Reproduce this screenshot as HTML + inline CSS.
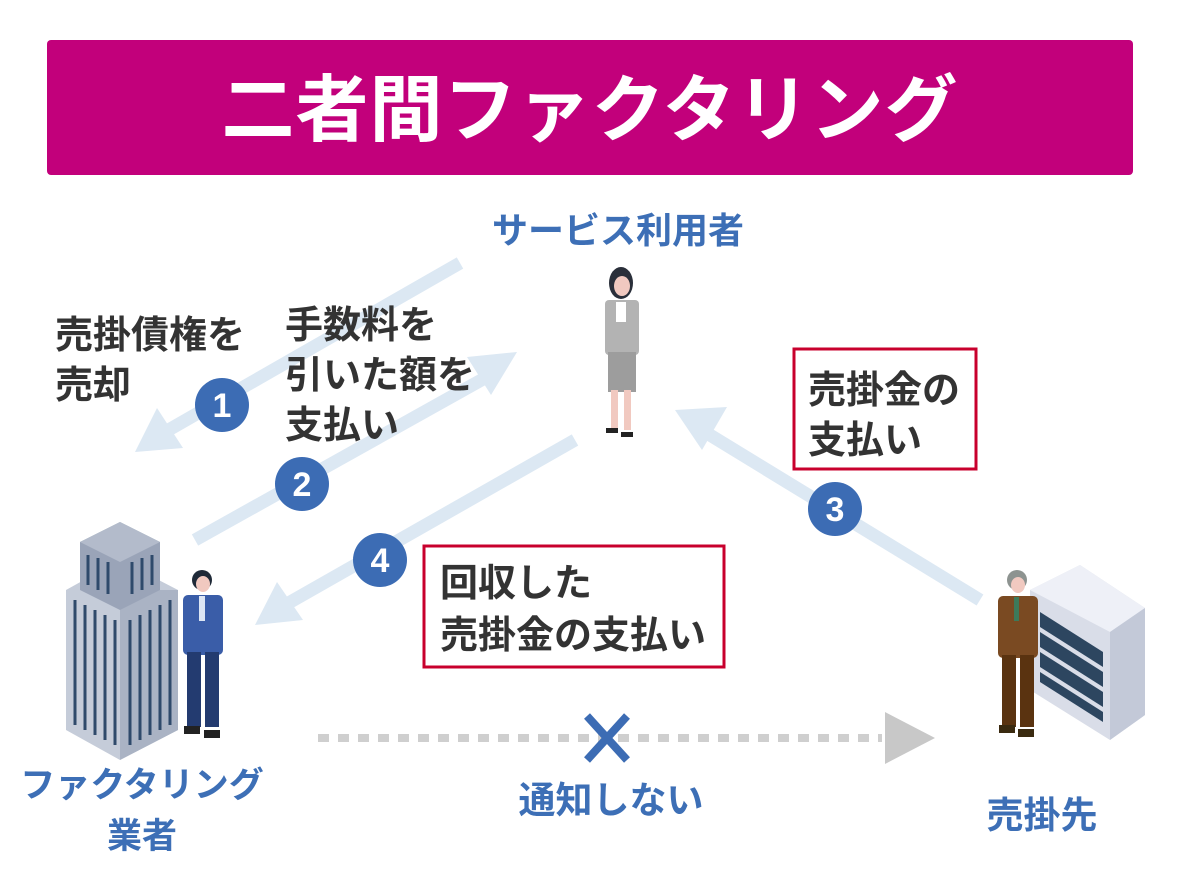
<!DOCTYPE html>
<html><head><meta charset="utf-8"><style>
html,body{margin:0;padding:0;background:#fff;}
svg{display:block;font-family:"Liberation Sans","Noto Sans CJK JP",sans-serif;font-weight:bold;}
</style></head><body>
<svg width="1184" height="886" viewBox="0 0 1184 886">
<rect x="47" y="40" width="1086" height="135" rx="4" fill="#c2007b"/>
<text x="590" y="135" font-size="73" fill="#fff" text-anchor="middle" letter-spacing="1">二者間ファクタリング</text>

<text x="618" y="243" font-size="36" fill="#3d6fb6" text-anchor="middle">サービス利用者</text>

<g stroke="#dce8f3" stroke-width="13" fill="none">
<line x1="460" y1="263" x2="165" y2="432"/>
<line x1="195" y1="540" x2="485" y2="378"/>
<line x1="575" y1="440" x2="285" y2="605"/>
<line x1="980" y1="600" x2="705" y2="432"/>
</g>
<g fill="#dce8f3">
<polygon points="135,452 157,408 183,448"/>
<polygon points="517,352 491,395 467,357"/>
<polygon points="255,625 277,582 303,620"/>
<polygon points="675,410 727,407 702,450"/>
</g>

<g fill="#3c6cb4">
<circle cx="222" cy="405" r="27"/><circle cx="302" cy="484" r="27"/>
<circle cx="380" cy="560" r="27"/><circle cx="835" cy="509" r="27"/>
</g>
<g fill="#fff" font-size="34" text-anchor="middle">
<text x="222" y="417">1</text><text x="302" y="496">2</text>
<text x="380" y="572">4</text><text x="835" y="521">3</text>
</g>

<g fill="#333" font-size="38">
<text x="55" y="348">売掛債権を</text><text x="55" y="398">売却</text>
<text x="285" y="338">手数料を</text><text x="285" y="388">引いた額を</text><text x="285" y="438">支払い</text>
<text x="808" y="403">売掛金の</text><text x="808" y="453">支払い</text>
<text x="440" y="596">回収した</text><text x="440" y="648">売掛金の支払い</text>
</g>
<rect x="794" y="349" width="182" height="120" fill="none" stroke="#c8002d" stroke-width="3"/>
<rect x="424" y="546" width="300" height="121" fill="none" stroke="#c8002d" stroke-width="3"/>

<!-- woman -->
<g>
<ellipse cx="621" cy="283" rx="12" ry="16" fill="#2a2f3a"/>
<ellipse cx="622" cy="286" rx="8" ry="10" fill="#f1c9c0"/>
<rect x="605" y="300" width="34" height="55" rx="4" fill="#b3b3b3"/>
<rect x="616" y="302" width="10" height="20" fill="#fff"/>
<rect x="608" y="352" width="28" height="40" fill="#9d9d9d"/>
<rect x="611" y="390" width="7" height="40" fill="#f1c9c0"/><rect x="624" y="390" width="7" height="40" fill="#f1c9c0"/>
<rect x="606" y="428" width="12" height="5" fill="#222"/><rect x="621" y="432" width="12" height="5" fill="#222"/>
</g>

<!-- building -->
<g>
<polygon points="66,590 120,560 178,590 178,730 120,760 66,730" fill="#c5ccd9"/>
<polygon points="120,590 178,590 178,730 120,760" fill="#aab3c4"/>
<polygon points="80,542 120,522 160,542 160,590 120,610 80,590" fill="#9aa4b8"/>
<polygon points="80,542 120,522 160,542 120,562" fill="#b3bbcb"/>
<g stroke="#2f4a6b" stroke-width="3">
<line x1="75" y1="600" x2="75" y2="725"/><line x1="85" y1="605" x2="85" y2="730"/><line x1="95" y1="610" x2="95" y2="735"/><line x1="105" y1="615" x2="105" y2="740"/><line x1="115" y1="620" x2="115" y2="745"/>
<line x1="130" y1="620" x2="130" y2="745"/><line x1="140" y1="615" x2="140" y2="740"/><line x1="150" y1="610" x2="150" y2="735"/><line x1="160" y1="605" x2="160" y2="730"/><line x1="170" y1="600" x2="170" y2="725"/>
<line x1="88" y1="555" x2="88" y2="585"/><line x1="98" y1="558" x2="98" y2="590"/><line x1="108" y1="562" x2="108" y2="594"/><line x1="132" y1="562" x2="132" y2="594"/><line x1="142" y1="558" x2="142" y2="590"/><line x1="152" y1="555" x2="152" y2="585"/>
</g>
</g>
<!-- blue man -->
<g>
<circle cx="202" cy="580" r="10" fill="#1f2a38"/><ellipse cx="203" cy="584" rx="7" ry="8" fill="#f1c9c0"/>
<rect x="183" y="595" width="40" height="60" rx="5" fill="#3a5da8"/>
<rect x="199" y="596" width="6" height="25" fill="#dde6f4"/>
<rect x="187" y="652" width="14" height="75" fill="#233b70"/><rect x="205" y="652" width="14" height="75" fill="#233b70"/>
<rect x="184" y="726" width="16" height="8" fill="#222"/><rect x="204" y="730" width="16" height="8" fill="#222"/>
</g>
<text x="142" y="797" font-size="35" fill="#3d6fb6" text-anchor="middle">ファクタリング</text>
<text x="142" y="848" font-size="35" fill="#3d6fb6" text-anchor="middle">業者</text>

<!-- dotted -->
<line x1="318" y1="738" x2="882" y2="738" stroke="#cfcfcf" stroke-width="8" stroke-dasharray="11,9"/>
<polygon points="885,712 935,738 885,764" fill="#c8c8c8"/>
<g stroke="#3c6cb4" stroke-width="8"><line x1="587" y1="716" x2="627" y2="760"/><line x1="627" y1="716" x2="587" y2="760"/></g>
<text x="611" y="813" font-size="37" fill="#3d6fb6" text-anchor="middle">通知しない</text>

<!-- cabinet -->
<g>
<polygon points="1030,590 1080,565 1145,608 1145,715 1110,740 1030,690" fill="#d9dde8"/>
<polygon points="1030,590 1080,565 1145,608 1110,632" fill="#eef0f7"/>
<polygon points="1110,632 1145,608 1145,715 1110,740" fill="#c3c9d8"/>
<g fill="#2d4660">
<polygon points="1040,612 1103,652 1103,667 1040,627"/>
<polygon points="1040,632 1103,672 1103,687 1040,647"/>
<polygon points="1040,652 1103,692 1103,707 1040,667"/>
<polygon points="1040,672 1103,712 1103,722 1040,682"/>
</g>
</g>
<!-- brown man -->
<g>
<circle cx="1017" cy="580" r="10" fill="#8d9390"/><ellipse cx="1018" cy="585" rx="7" ry="8" fill="#f1c9c0"/>
<rect x="998" y="596" width="40" height="62" rx="5" fill="#7a4a22"/>
<rect x="1014" y="597" width="5" height="24" fill="#3d7a5a"/>
<rect x="1002" y="655" width="14" height="72" fill="#5a3310"/><rect x="1020" y="655" width="14" height="72" fill="#5a3310"/>
<rect x="999" y="725" width="16" height="8" fill="#3a2a10"/><rect x="1018" y="729" width="16" height="8" fill="#3a2a10"/>
</g>
<text x="1042" y="828" font-size="37" fill="#3d6fb6" text-anchor="middle">売掛先</text>
</svg>
</body></html>
